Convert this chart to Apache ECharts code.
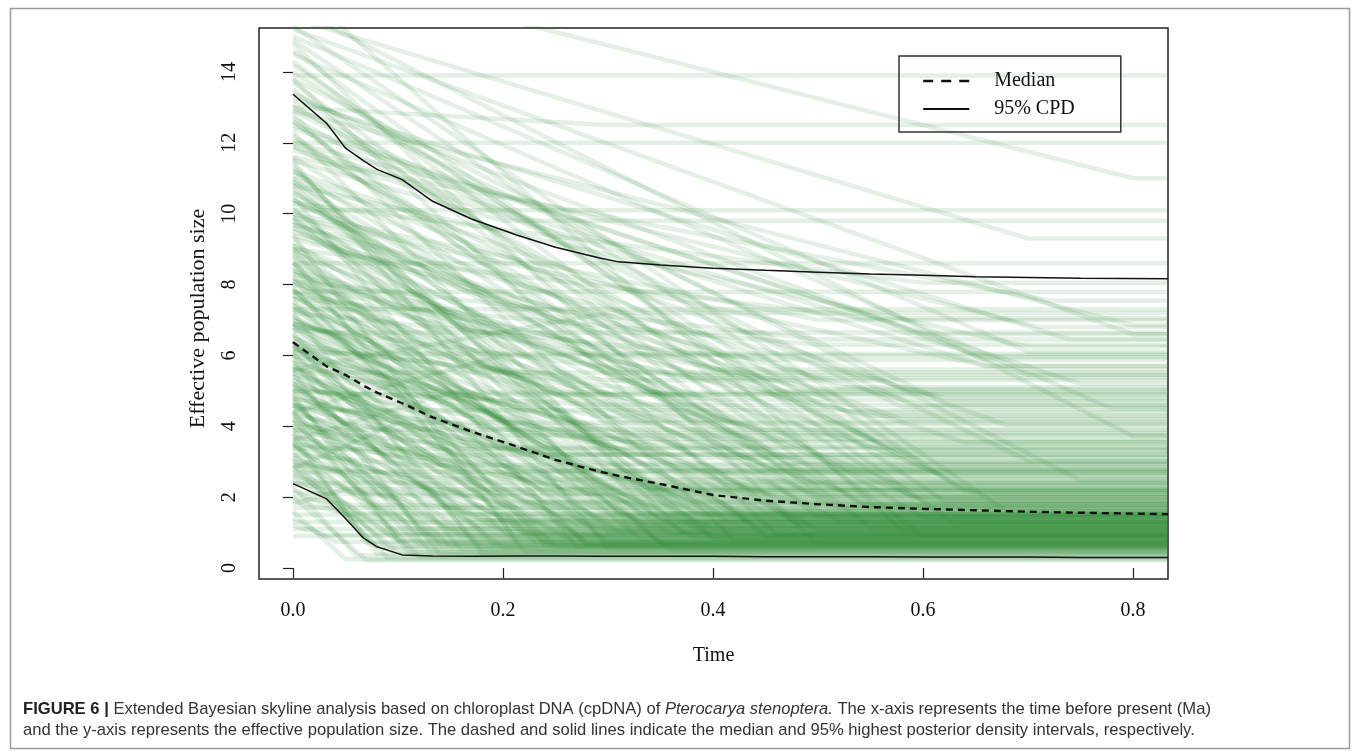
<!DOCTYPE html>
<html>
<head>
<meta charset="utf-8">
<script src="https://cdn.jsdelivr.net/npm/echarts@6/dist/echarts.min.js"></script>
<style>
  html, body { margin: 0; padding: 0; background: #fff; }
  #main { width: 1355px; height: 752px; }
</style>
</head>
<body>
<div id="main"></div>
<script>
// time grid of the summary lines (Ma)
const lineTime = [0, 0.032, 0.05, 0.067, 0.08, 0.104, 0.133, 0.17, 0.213, 0.25, 0.292, 0.31,
  0.35, 0.4, 0.45, 0.5, 0.55, 0.6, 0.65, 0.7, 0.75, 0.8333];
const medianSize = [6.37, 5.69, 5.45, 5.15, 4.95, 4.65, 4.25, 3.85, 3.43, 3.05, 2.72, 2.6,
  2.37, 2.06, 1.9, 1.8, 1.72, 1.67, 1.63, 1.59, 1.56, 1.52];
const upperSize = [13.37, 12.55, 11.85, 11.5, 11.25, 10.96, 10.35, 9.85, 9.4, 9.05, 8.75, 8.64,
  8.55, 8.46, 8.4, 8.35, 8.3, 8.26, 8.22, 8.2, 8.18, 8.16];
const lowerSize = [2.38, 1.95, 1.4, 0.85, 0.6, 0.37, 0.34, 0.33, 0.34, 0.34, 0.33, 0.33,
  0.33, 0.33, 0.32, 0.32, 0.32, 0.31, 0.31, 0.31, 0.3, 0.3];

// posterior sample trajectories: size at present, time it levels off, size after that
const sampleStart = [
  2.0, 3.1, 1.6, 4.2, 2.3, 5.5, 3.6, 7.2, 2.8, 9.4,
  4.8, 6.1, 3.3, 11.5, 5.2, 7.9, 2.6, 4.4, 8.6, 6.6,
  3.9, 10.2, 5.8, 4.1, 7.4, 2.9, 12.8, 6.3, 4.6, 9.0,
  3.5, 5.4, 7.7, 4.0, 11.0, 6.0, 3.2, 8.2, 5.0, 2.5,
  6.9, 4.3, 9.8, 3.7, 5.6, 7.1, 2.7, 4.9, 13.5, 6.4,
  3.4, 8.4, 5.1, 4.5, 10.6, 3.0, 6.7, 5.7, 4.2, 9.6,
  3.8, 7.5, 2.2, 6.2, 4.7, 12.1, 5.3, 3.6, 8.8, 4.4,
  6.5, 3.1, 7.8, 5.9, 1.9, 14.8, 10.9, 16.5, 1.4, 1.2,
  5.0, 8.1, 3.4, 6.8, 2.6, 10.4, 4.6, 7.0, 3.0, 5.5,
  9.1, 4.1, 6.2, 2.4, 11.9, 5.2, 7.6, 3.7, 8.9, 4.8,
  6.5, 2.9, 10.0, 5.8, 3.5, 7.3, 4.3, 13.0, 6.0, 3.9,
  8.3, 5.1, 9.7, 4.6, 6.9, 4.0, 11.2, 5.6, 7.8, 4.5,
  9.3, 6.3, 5.0, 8.0, 12.4, 6.8, 5.6, 9.9, 7.2, 6.1,
  10.8, 8.1, 6.7, 12.9, 9.0, 7.3, 11.6, 7.8, 10.3, 12.6,
  2.0, 14.2, 8.6, 1.8, 13.8, 2.7, 11.0, 3.4, 15.8, 2.8,
  14.5, 3.6, 13.3, 4.4, 15.2, 5.6,
  8.6, 15.5, 10.1, 17.0, 12.0, 13.9,
  8.7, 5.9, 10.5, 7.3, 4.9, 12.3, 6.4, 9.2, 3.8, 11.4,
  7.9, 5.3, 13.8, 6.8, 4.4, 9.9, 8.1, 5.7, 10.9, 7.0,
  12.7, 6.1, 9.5, 8.4, 11.8, 7.6, 1.3, 1.7, 2.1, 2.4,
  1.1, 0.9, 1.5, 14.6, 6.6, 4.7, 8.9, 3.5, 10.1, 7.5,
  5.2, 11.2, 6.9, 9.0, 4.2, 8.2, 13.1, 5.5, 7.8, 10.3,
  3.2, 9.7, 6.2, 12.0, 4.8, 15.3, 8.6, 2.9, 6.3, 10.7,
  9.8, 12.2, 7.4, 14.0, 10.6, 8.0, 13.4, 11.1, 9.4, 15.0,
  12.5, 10.0, 8.8, 6.4, 11.6, 13.7, 9.1, 14.9, 7.1, 10.4,
  12.9, 6.9, 8.3, 11.9, 13.2, 9.6, 7.7, 12.6, 10.8, 14.3,
  8.5, 11.3, 9.9, 6.0, 5.4, 4.6, 3.9, 5.0, 13.0, 11.5
];
const sampleBreak = [
  0.07, 0.09, 0.05, 0.12, 0.06, 0.14, 0.08, 0.18, 0.10, 0.22,
  0.13, 0.16, 0.09, 0.30, 0.20, 0.25, 0.11, 0.15, 0.28, 0.19,
  0.12, 0.35, 0.24, 0.14, 0.30, 0.10, 0.42, 0.21, 0.17, 0.33,
  0.13, 0.26, 0.38, 0.16, 0.45, 0.27, 0.12, 0.36, 0.22, 0.08,
  0.31, 0.20, 0.50, 0.15, 0.29, 0.40, 0.09, 0.24, 0.55, 0.34,
  0.14, 0.44, 0.27, 0.21, 0.48, 0.11, 0.37, 0.30, 0.19, 0.52,
  0.18, 0.41, 0.06, 0.35, 0.26, 0.60, 0.32, 0.20, 0.47, 0.28,
  0.39, 0.17, 0.43, 0.36, 0.05, 0.50, 0.40, 0.58, 0.04, 0.03,
  0.30, 0.45, 0.22, 0.40, 0.14, 0.55, 0.33, 0.48, 0.20, 0.38,
  0.60, 0.30, 0.46, 0.08, 0.65, 0.36, 0.52, 0.26, 0.58, 0.34,
  0.44, 0.15, 0.62, 0.40, 0.24, 0.50, 0.30, 0.70, 0.42, 0.25,
  0.56, 0.35, 0.64, 0.28, 0.47, 0.05, 0.68, 0.32, 0.55, 0.05,
  0.60, 0.40, 0.05, 0.50, 0.75, 0.38, 0.05, 0.66, 0.45, 0.05,
  0.70, 0.50, 0.05, 0.80, 0.55, 0.05, 0.72, 0.05, 0.60, 0.52,
  0.06, 0.62, 0.50, 0.05, 0.75, 0.05, 0.60, 0.05, 0.80, 0.10,
  0.78, 0.15, 0.70, 0.20, 0.80, 0.30,
  0.05, 0.70, 0.05, 0.80, 0.05, 0.05,
  0.21, 0.12, 0.27, 0.33, 0.10, 0.37, 0.18, 0.41, 0.07, 0.32,
  0.23, 0.16, 0.46, 0.29, 0.11, 0.38, 0.26, 0.20, 0.49, 0.35,
  0.57, 0.31, 0.53, 0.45, 0.66, 0.50, 0.05, 0.05, 0.05, 0.05,
  0.05, 0.05, 0.05, 0.63, 0.24, 0.14, 0.30, 0.10, 0.43, 0.28,
  0.17, 0.51, 0.34, 0.47, 0.22, 0.39, 0.59, 0.25, 0.44, 0.58,
  0.12, 0.62, 0.30, 0.71, 0.20, 0.68, 0.36, 0.08, 0.22, 0.40,
  0.34, 0.48, 0.26, 0.56, 0.44, 0.30, 0.62, 0.52, 0.40, 0.70,
  0.60, 0.50, 0.28, 0.18, 0.46, 0.54, 0.33, 0.64, 0.20, 0.42,
  0.58, 0.25, 0.36, 0.66, 0.74, 0.48, 0.32, 0.50, 0.38, 0.60,
  0.24, 0.35, 0.45, 0.28, 0.22, 0.15, 0.12, 0.30, 0.30, 0.20
];
const sampleEnd = [
  0.22, 0.28, 0.25, 0.31, 0.35, 0.38, 0.40, 0.42, 0.45, 0.47,
  0.50, 0.52, 0.55, 0.56, 0.58, 0.60, 0.62, 0.63, 0.65, 0.67,
  0.68, 0.70, 0.72, 0.73, 0.75, 0.76, 0.78, 0.80, 0.81, 0.83,
  0.85, 0.86, 0.88, 0.90, 0.91, 0.93, 0.95, 0.97, 0.98, 1.00,
  1.02, 1.04, 1.05, 1.07, 1.08, 1.10, 1.12, 1.14, 1.15, 1.17,
  1.19, 1.20, 1.22, 1.24, 1.25, 1.27, 1.29, 1.30, 1.32, 1.33,
  1.35, 1.36, 1.38, 1.40, 1.41, 1.43, 1.44, 1.46, 1.47, 1.49,
  1.50, 1.51, 1.52, 1.53, 1.54, 0.66, 0.87, 1.06, 0.74, 0.94,
  1.57, 1.60, 1.63, 1.66, 1.70, 1.73, 1.76, 1.80, 1.84, 1.88,
  1.92, 1.96, 2.00, 2.05, 2.10, 2.15, 2.20, 2.26, 2.32, 2.38,
  2.45, 2.52, 2.60, 2.68, 2.76, 2.85, 2.94, 3.03, 3.12, 3.22,
  3.32, 3.43, 3.54, 3.65, 3.77, 3.90, 4.03, 4.16, 4.30, 4.45,
  4.60, 4.75, 4.90, 5.05, 5.20, 5.36, 5.52, 5.70, 5.88, 6.05,
  6.25, 6.45, 6.65, 6.85, 7.05, 7.30, 7.55, 7.80, 8.05, 1.68,
  1.78, 1.90, 2.03, 2.23, 2.48, 2.72, 3.00, 3.36, 3.72, 4.10,
  4.50, 4.95, 5.45, 6.00, 6.60, 7.20,
  8.60, 9.30, 10.10, 11.00, 12.00, 13.90,
  0.90, 1.10, 0.60, 1.30, 0.80, 1.00, 0.55, 1.45, 0.70, 1.20,
  0.75, 1.35, 0.95, 1.15, 0.45, 1.60, 2.10, 1.90, 2.40, 2.80,
  3.30, 3.80, 4.40, 5.00, 5.70, 6.30, 1.30, 1.70, 2.10, 2.40,
  1.10, 0.90, 1.50, 1.25, 0.85, 0.65, 1.05, 0.95, 1.40, 0.70,
  1.20, 1.75, 2.25, 2.60, 1.85, 3.10, 2.00, 2.50, 3.60, 4.20,
  2.90, 4.80, 5.30, 6.80, 3.40, 1.60, 0.50, 0.60, 1.00, 0.80,
  2.20, 2.70, 3.20, 3.50, 3.90, 4.30, 4.70, 5.10, 5.60, 6.10,
  6.60, 7.00, 2.35, 2.65, 2.95, 1.80, 1.55, 2.15, 3.75, 4.05,
  4.55, 4.90, 5.45, 5.95, 6.45, 3.00, 2.00, 1.45, 1.15, 0.90,
  0.65, 1.30, 2.80, 3.55, 2.75, 2.20, 3.20, 4.60, 12.50, 9.80
];
const timeEnd = 0.8333;

const xTicks = [0, 0.2, 0.4, 0.6, 0.8];
const yTicks = [0, 2, 4, 6, 8, 10, 12, 14];

const serif = 'Liberation Serif';
const chart = echarts.init(document.getElementById('main'));

const pairs = (ys) => lineTime.map((t, i) => [t, ys[i]]);
const sampleLines = sampleEnd.map((e, i) => ({
  coords: [[0, sampleStart[i]], [sampleBreak[i], e], [timeEnd, e]]
}));

const option = {
  backgroundColor: '#fff',
  animation: false,
  grid: {
    left: 259, right: 187, top: 28, bottom: 173,
    show: true,
    borderColor: '#222',
    borderWidth: 1.5
  },
  xAxis: {
    type: 'value',
    min: -0.0324,
    max: timeEnd,
    name: 'Time',
    nameLocation: 'middle',
    nameGap: 67,
    nameTextStyle: { fontFamily: serif, fontSize: 20, color: '#111' },
    axisLine: { show: false },
    splitLine: { show: false },
    axisTick: { customValues: xTicks, length: 10, lineStyle: { color: '#222', width: 1.2 } },
    axisLabel: {
      customValues: xTicks,
      margin: 22,
      fontFamily: serif, fontSize: 20, color: '#111',
      formatter: v => v.toFixed(1)
    }
  },
  yAxis: {
    type: 'value',
    min: -0.31,
    max: 15.24,
    name: 'Effective population size',
    nameLocation: 'middle',
    nameGap: 50,
    nameRotate: 90,
    nameTextStyle: { fontFamily: serif, fontSize: 22, color: '#111', padding: [0, 30, 0, 0] },
    axisLine: { show: false },
    splitLine: { show: false },
    axisTick: { customValues: yTicks, length: 10, lineStyle: { color: '#222', width: 1.2 } },
    axisLabel: {
      customValues: yTicks,
      rotate: 90,
      margin: 19,
      fontFamily: serif, fontSize: 20, color: '#111'
    }
  },
  legend: {
    data: [
      { name: 'Median', lineStyle: { type: [10, 8], width: 2.4 } },
      { name: '95% CPD' }
    ],
    orient: 'vertical',
    left: 899,
    top: 56,
    padding: [15, 46, 13, 23],
    borderColor: '#333',
    borderWidth: 1.5,
    itemWidth: 46,
    itemHeight: 14,
    itemGap: 8,
    selectedMode: false,
    itemStyle: { opacity: 0 },
    textStyle: { fontFamily: serif, fontSize: 20, color: '#111', padding: [0, 0, 0, 20] }
  },
  series: [
    {
      name: 'samples',
      type: 'lines',
      coordinateSystem: 'cartesian2d',
      polyline: true,
      silent: true,
      clip: true,
      lineStyle: { color: 'rgb(30,135,40)', width: 4.5, opacity: 0.12 },
      data: sampleLines,
      z: 1
    },
    {
      name: 'Median',
      type: 'line',
      data: pairs(medianSize),
      symbol: 'none',
      itemStyle: { color: '#111' },
      lineStyle: { color: '#111', width: 2.4, type: [7, 5] },
      z: 5
    },
    {
      name: '95% CPD',
      type: 'line',
      data: pairs(upperSize),
      symbol: 'none',
      itemStyle: { color: '#111' },
      lineStyle: { color: '#111', width: 1.5 },
      z: 5
    },
    {
      name: '95% CPD',
      type: 'line',
      data: pairs(lowerSize),
      symbol: 'none',
      itemStyle: { color: '#111' },
      lineStyle: { color: '#111', width: 1.5 },
      z: 5
    }
  ],
  graphic: [
    {
      type: 'rect',
      left: 8, top: 6,
      shape: { width: 1339, height: 740 },
      style: { fill: 'none', stroke: '#9a9a9a', lineWidth: 1.5 },
      silent: true
    },
    {
      type: 'text',
      left: 23, top: 701,
      style: {
        text: '{b|FIGURE 6 |} Extended Bayesian skyline analysis based on chloroplast DNA (cpDNA) of {i|Pterocarya stenoptera.} The x-axis represents the time before present (Ma)',
        fontFamily: 'Liberation Sans', fontSize: 16.6, fill: '#333',
        rich: {
          b: { fontFamily: 'Liberation Sans', fontSize: 16.6, fontWeight: 'bold', fill: '#222' },
          i: { fontFamily: 'Liberation Sans', fontSize: 16.6, fontStyle: 'italic', fill: '#333' }
        }
      }
    },
    {
      type: 'text',
      left: 23, top: 722,
      style: {
        text: 'and the y-axis represents the effective population size. The dashed and solid lines indicate the median and 95% highest posterior density intervals, respectively.',
        fontFamily: 'Liberation Sans', fontSize: 16.6, fill: '#333'
      }
    }
  ]
};

chart.setOption(option);
</script>
</body>
</html>
